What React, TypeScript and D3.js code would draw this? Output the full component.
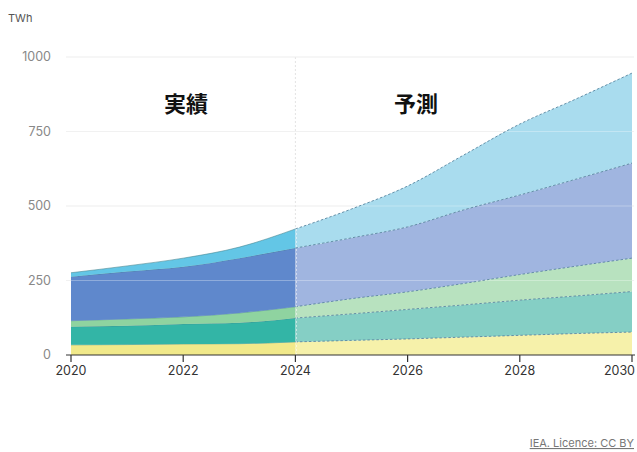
import React from "react";
import * as d3 from "d3";

const histYears = [2020, 2021, 2022, 2023, 2024];
const histYellow = [34, 35, 37, 38, 44];
const histTeal = [61, 63, 67, 70, 80];
const histGreen = [20, 23, 24, 33, 38];
const histBlue = [148, 159, 168, 184, 197];
const histCyan = [13, 19, 29, 37, 64];

const fcYears = [2024, 2025, 2026, 2027, 2028, 2029, 2030];
const fcYellow = [44, 49, 54, 60, 66, 72, 77];
const fcTeal = [80, 89, 99, 108, 118, 126, 136];
const fcGreen = [38, 51, 59, 72, 86, 100, 112];
const fcBlue = [197, 204, 218, 247, 267, 292, 319];
const fcCyan = [64, 97, 137, 184, 238, 269, 302];

const yTicks = [0, 250, 500, 750, 1000];
const xTicks = [2020, 2022, 2024, 2026, 2028, 2030];

const keys = ["yellow", "teal", "green", "blue", "cyan"];
const histColors = ["#f1e98a", "#33b5a6", "#8fd3a0", "#5f88cc", "#63c6e6"];
const fcColors = ["#f6f1aa", "#85cfc5", "#b8e2bf", "#a0b5e0", "#a9dcee"];

function build(years: number[], cols: number[][]) {
  return years.map((y, i) => {
    const o: any = { year: y };
    keys.forEach((k, j) => (o[k] = cols[j][i]));
    return o;
  });
}

export default function App() {
  const W = 637, H = 452;
  const x = d3.scaleLinear().domain([2020, 2030]).range([71, 632]);
  const y = d3.scaleLinear().domain([0, 1000]).range([355, 57]);

  const histData = build(histYears, [histYellow, histTeal, histGreen, histBlue, histCyan]);
  const fcData = build(fcYears, [fcYellow, fcTeal, fcGreen, fcBlue, fcCyan]);
  const stack = d3.stack<any>().keys(keys);
  const hs = stack(histData);
  const fs = stack(fcData);

  const area = d3
    .area<any>()
    .x((d) => x(d.data.year))
    .y0((d) => y(d[0]))
    .y1((d) => y(d[1]))
    .curve(d3.curveMonotoneX);
  const line = d3
    .line<any>()
    .x((d) => x(d.data.year))
    .y((d) => y(d[1]))
    .curve(d3.curveMonotoneX);

  const top2024 = fcCyan[0] + fcBlue[0] + fcGreen[0] + fcTeal[0] + fcYellow[0];

  return (
    <svg width={W} height={H} style={{ position: "absolute", left: 0, top: 0, background: "#fff" }}
      fontFamily="Inter, 'Noto Sans', sans-serif">
      <text x={8} y={22} fontSize={11} fill="#555">TWh</text>
      {yTicks.map((t) => (
        <g key={t}>
          {t > 0 && <line x1={66} x2={634} y1={y(t)} y2={y(t)} stroke="#ebebeb" strokeWidth={1} />}
          <text x={51} y={y(t) + 4} fontSize={12.5} fill="#888" textAnchor="end">{t}</text>
        </g>
      ))}
      <line x1={x(2024)} x2={x(2024)} y1={y(1000)} y2={y(0)} stroke="#e3e3e3" strokeDasharray="2,2" />
      {hs.map((s, i) => (
        <g key={"h" + i}>
          <path d={area(s) || ""} fill={histColors[i]} />
          <path d={line(s) || ""} fill="none" stroke="#3f7f8a" strokeOpacity={0.55} strokeWidth={1} />
        </g>
      ))}
      {fs.map((s, i) => (
        <g key={"f" + i}>
          <path d={area(s) || ""} fill={fcColors[i]} />
        </g>
      ))}
      {yTicks.filter((t) => t > 0).map((t) => (
        <line key={"g" + t} x1={66} x2={634} y1={y(t)} y2={y(t)} stroke="#ffffff" strokeOpacity={0.3} strokeWidth={1} />
      ))}
      {fs.map((s, i) => (
        <path key={"fl" + i} d={line(s) || ""} fill="none" stroke="#5a86a0" strokeOpacity={0.9} strokeWidth={1} strokeDasharray="2.5,2" />
      ))}
      <line x1={x(2024) + 1} x2={x(2024) + 1} y1={y(top2024)} y2={y(0)} stroke="#ffffff" strokeOpacity={0.6} strokeDasharray="2,2" />
      <line x1={66} x2={635} y1={y(0)} y2={y(0)} stroke="#333" strokeWidth={1.2} />
      {xTicks.map((t, i) => (
        <g key={t}>
          <line x1={x(t)} x2={x(t)} y1={y(0)} y2={y(0) + 7} stroke="#333" strokeWidth={1.2} />
          <text x={i === xTicks.length - 1 ? 635 : x(t)} y={375} fontSize={12.5} fill="#333"
            textAnchor={i === xTicks.length - 1 ? "end" : "middle"}>{t}</text>
        </g>
      ))}
      <text x={186} y={112} fontSize={22} fontWeight="bold" fill="#111" textAnchor="middle"
        fontFamily="'Noto Sans CJK JP', sans-serif">実績</text>
      <text x={416} y={112} fontSize={22} fontWeight="bold" fill="#111" textAnchor="middle"
        fontFamily="'Noto Sans CJK JP', sans-serif">予測</text>
      <text x={634} y={447} fontSize={11} fill="#777" textAnchor="end" textDecoration="underline">IEA. Licence: CC BY</text>
    </svg>
  );
}
